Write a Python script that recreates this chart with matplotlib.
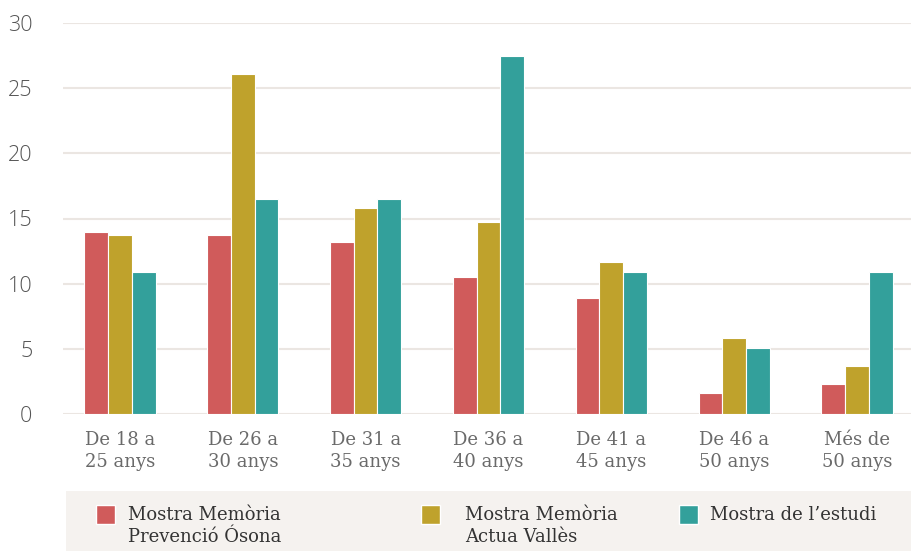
import matplotlib
matplotlib.use('Agg')
import matplotlib.pyplot as plt
from matplotlib.patches import Rectangle
import numpy as np

categories = ["De 18 a\n25 anys", "De 26 a\n30 anys", "De 31 a\n35 anys", "De 36 a\n40 anys",
              "De 41 a\n45 anys", "De 46 a\n50 anys", "Més de\n50 anys"]
series_names = ["Mostra Memòria\nPrevenció Ósona", "Mostra Memòria\nActua Vallès", "Mostra de l’estudi"]
osona = [14.0, 13.7, 13.2, 10.5, 8.9, 1.6, 2.3]
valles = [13.7, 26.1, 15.8, 14.7, 11.7, 5.8, 3.7]
estudi = [10.9, 16.5, 16.5, 27.5, 10.9, 5.1, 10.9]
yticks = [0, 5, 10, 15, 20, 25, 30]
colors = ['#d05b5b', '#bfa22c', '#33a09b']

W, H = 911, 551
fig = plt.figure(figsize=(W / 100, H / 100), dpi=100)
ax = fig.add_axes([63 / W, 1 - 414 / H, (W - 63) / W, (414 - 23) / H])

x = np.arange(len(categories))
bw = 0.193
for i, (vals, c) in enumerate(zip([osona, valles, estudi], colors)):
    ax.bar(x + (i - 1) * bw, vals, bw, color=c, edgecolor='white', linewidth=0.8, zorder=3)

ax.set_xlim(-0.464, 6.44)
ax.set_ylim(0, 30)
ax.set_yticks(yticks)
ax.set_yticklabels([str(v) for v in yticks], fontsize=15.5, color='#555555',
                   family=['Open Sans', 'DejaVu Sans'], fontweight='light')
ax.set_xticks(x)
ax.set_xticklabels(categories, fontsize=13, color='#6a6a6a', family='DejaVu Serif', linespacing=1.3)
ax.tick_params(axis='y', length=0, pad=22)
ax.tick_params(axis='x', length=0, pad=12)
for s in ax.spines.values():
    s.set_visible(False)
ax.yaxis.grid(True, color='#ebe6e2', linewidth=1.5, zorder=0)
ax.set_axisbelow(True)

# legend panel
fig.add_artist(Rectangle((66 / W, 0), (W - 66) / W, (551 - 491) / H, transform=fig.transFigure,
                         facecolor='#f5f2ef', edgecolor='none', zorder=0))
leg_x = [96, 421, 679]
text_x = [128, 465, 710]
for name, c, lx, tx in zip(series_names, colors, leg_x, text_x):
    fig.add_artist(Rectangle((lx / W, 1 - 524 / H), 19 / W, 19 / H, transform=fig.transFigure,
                             facecolor=c, edgecolor='white', linewidth=1, zorder=2))
    fig.text(tx / W, 1 - 506 / H, name, fontsize=13, color='#333333', family='DejaVu Serif',
             va='top', ha='left', linespacing=1.32)

fig.savefig('out.png', dpi=100)
